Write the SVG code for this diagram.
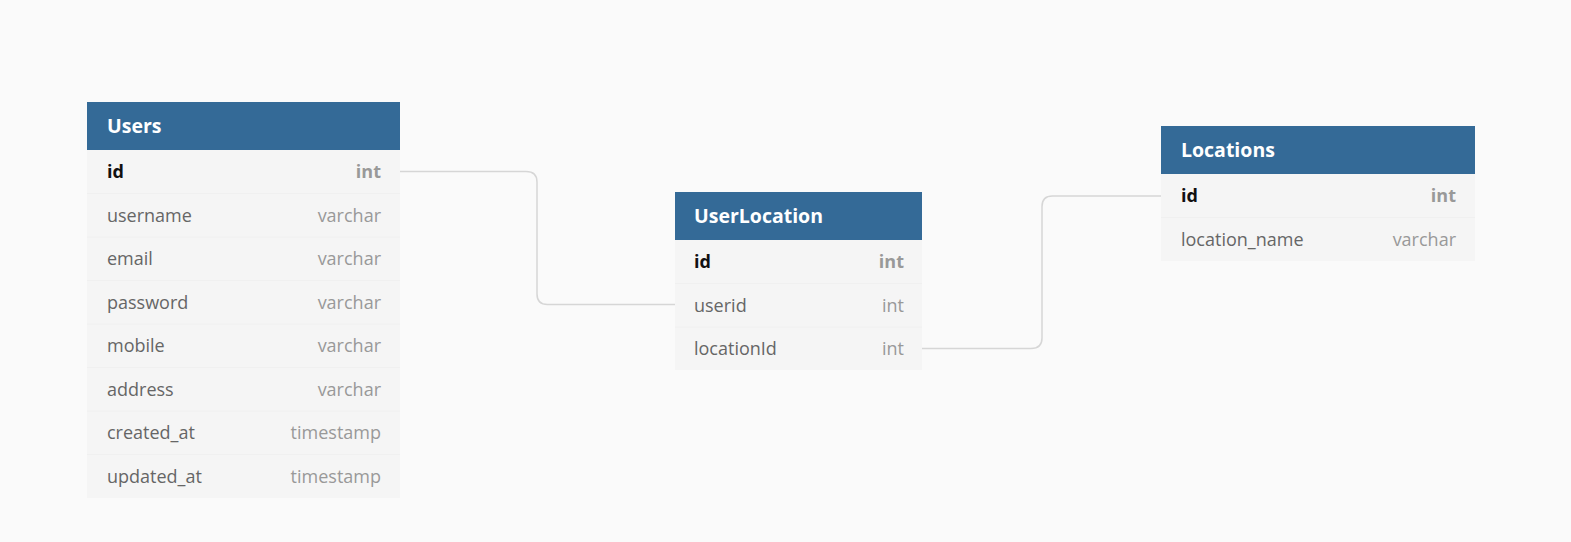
<svg xmlns="http://www.w3.org/2000/svg" width="1571" height="542" viewBox="0 0 1571 542">
<style>
.hdr{fill:#346a97}
.ht{fill:#fff;font-family:"Open Sans",sans-serif;font-weight:700;font-size:19.5px}
.row{fill:#f5f5f5}
.sep{stroke:#f0f0f0;stroke-width:1}
.fn{fill:#666;font-family:"Open Sans",sans-serif;font-size:18px}
.ft{fill:#999;font-family:"Open Sans",sans-serif;font-size:18px;text-anchor:end}
.pk{fill:#111;font-weight:700}
.pkt{fill:#999;font-weight:700}
.conn{fill:none;stroke:#d6d6d6;stroke-width:1.5}
</style>
<rect width="1571" height="542" fill="#fafafa"/>
<g id="connectors">
<path class="conn" d="M400 171.5 H526 Q537 171.5 537 182 V294 Q537 304.5 547.5 304.5 H675"/>
<path class="conn" d="M922 348.5 H1031 Q1042 348.5 1042 338 V206.5 Q1042 196 1052.5 196 H1161"/>
</g>
<g id="users">
<rect class="hdr" x="87" y="102" width="313" height="48"/>
<text class="ht" x="107" y="133">Users</text>
<rect class="row" x="87" y="150" width="313" height="348"/>
<line class="sep" x1="87" x2="400" y1="193.5" y2="193.5"/>
<line class="sep" x1="87" x2="400" y1="237" y2="237"/>
<line class="sep" x1="87" x2="400" y1="280.5" y2="280.5"/>
<line class="sep" x1="87" x2="400" y1="324" y2="324"/>
<line class="sep" x1="87" x2="400" y1="367.5" y2="367.5"/>
<line class="sep" x1="87" x2="400" y1="411" y2="411"/>
<line class="sep" x1="87" x2="400" y1="454.5" y2="454.5"/>
<text class="fn pk" x="107" y="178">id</text><text class="ft pkt" x="381" y="178">int</text>
<text class="fn" x="107" y="221.5">username</text><text class="ft" x="381" y="221.5">varchar</text>
<text class="fn" x="107" y="265">email</text><text class="ft" x="381" y="265">varchar</text>
<text class="fn" x="107" y="308.5">password</text><text class="ft" x="381" y="308.5">varchar</text>
<text class="fn" x="107" y="352">mobile</text><text class="ft" x="381" y="352">varchar</text>
<text class="fn" x="107" y="395.5">address</text><text class="ft" x="381" y="395.5">varchar</text>
<text class="fn" x="107" y="439">created_at</text><text class="ft" x="381" y="439">timestamp</text>
<text class="fn" x="107" y="482.5">updated_at</text><text class="ft" x="381" y="482.5">timestamp</text>
</g>
<g id="userlocation">
<rect class="hdr" x="675" y="192" width="247" height="48"/>
<text class="ht" x="694" y="223">UserLocation</text>
<rect class="row" x="675" y="240" width="247" height="130"/>
<line class="sep" x1="675" x2="922" y1="283.5" y2="283.5"/>
<line class="sep" x1="675" x2="922" y1="327" y2="327"/>
<text class="fn pk" x="694" y="268">id</text><text class="ft pkt" x="904" y="268">int</text>
<text class="fn" x="694" y="311.5">userid</text><text class="ft" x="904" y="311.5">int</text>
<text class="fn" x="694" y="355">locationId</text><text class="ft" x="904" y="355">int</text>
</g>
<g id="locations">
<rect class="hdr" x="1161" y="126" width="314" height="48"/>
<text class="ht" x="1181" y="157">Locations</text>
<rect class="row" x="1161" y="174" width="314" height="87"/>
<line class="sep" x1="1161" x2="1475" y1="217.5" y2="217.5"/>
<text class="fn pk" x="1181" y="202">id</text><text class="ft pkt" x="1456" y="202">int</text>
<text class="fn" x="1181" y="245.5">location_name</text><text class="ft" x="1456" y="245.5">varchar</text>
</g>
</svg>
